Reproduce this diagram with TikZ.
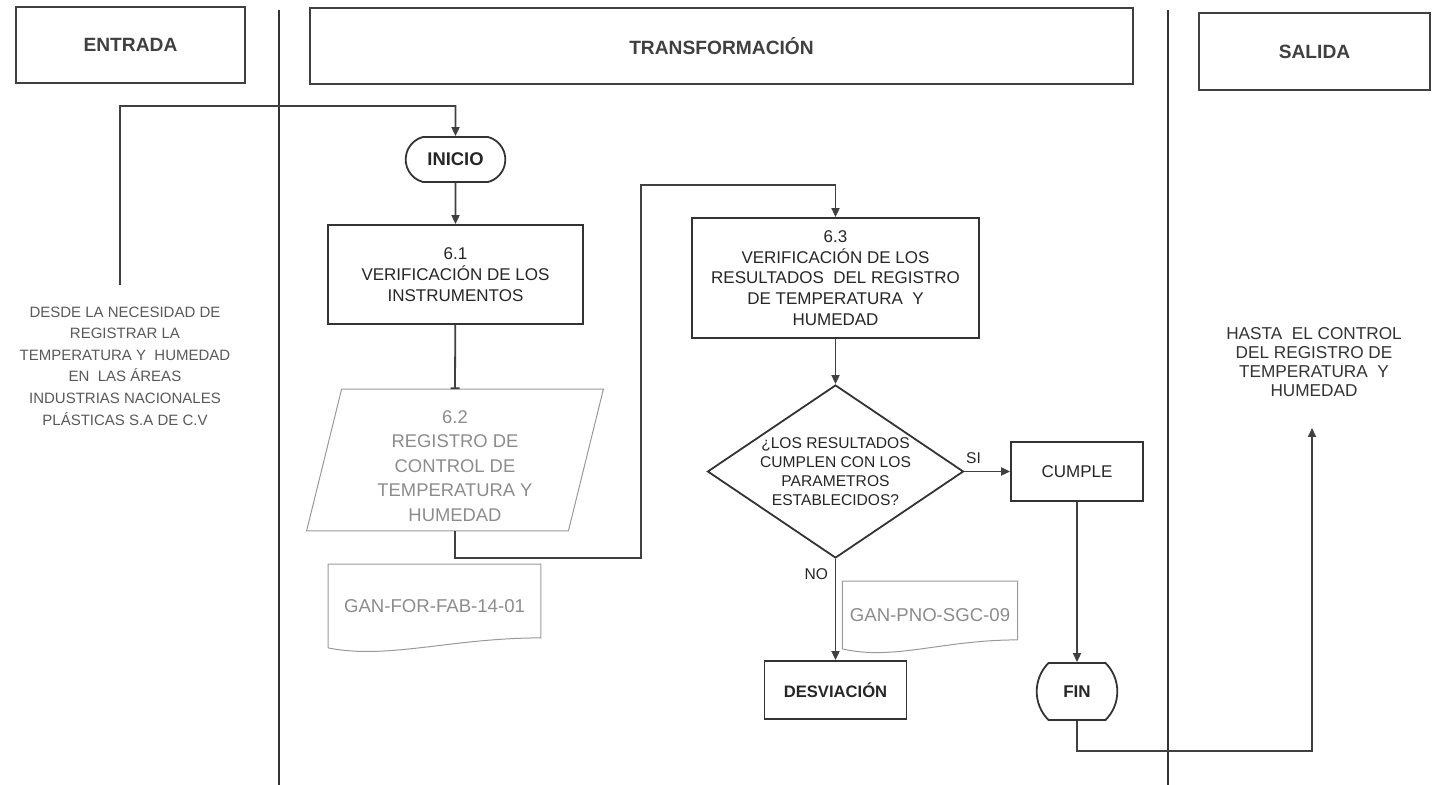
\documentclass[tikz,border=0pt]{standalone}
\usepackage{fontspec}
\setmainfont{Liberation Sans}
\usetikzlibrary{arrows.meta,shapes.geometric,shapes.misc,positioning}

\begin{document}
\begin{tikzpicture}[x=0.5pt,y=-0.5pt,>={Triangle[length=4.5pt,width=4pt]},line width=0.9pt]
  \tikzstyle{header}=[rectangle,draw=black!75,text=black!75,minimum width=114.5pt,
                      minimum height=38pt,font=\fontsize{9.6}{11}\selectfont\bfseries]
  \tikzstyle{process}=[rectangle,draw=black!80,text=black!85,align=center,inner sep=2pt,
                       font=\fontsize{8.5}{10.4}\selectfont]
  \tikzstyle{terminal}=[rounded rectangle,draw=black!80,text=black!85,
                        font=\fontsize{9.2}{11}\selectfont\bfseries]
  \tikzstyle{decision}=[diamond,aspect=1.48,inner sep=0pt,draw=black!80,text=black!85,
                        align=center,font=\fontsize{7.8}{9.5}\selectfont]
  \tikzstyle{faded}=[text=black!45,align=center,font=\fontsize{9.2}{12.25}\selectfont]
  \tikzstyle{doc}=[faded,font=\fontsize{9.3}{11}\selectfont]
  \tikzstyle{note}=[align=center,text=black!65,font=\fontsize{7.5}{10.8}\selectfont]
  \tikzstyle{outline}=[draw=black!40,line width=0.5pt]
  \tikzstyle{lane}=[draw=black!80,line width=1.1pt]
  \tikzstyle{flow}=[draw=black!75,->]
  \useasboundingbox (0,0) rectangle (1438,785);

  \draw[lane] (279,10) -- (279,785);
  \draw[lane] (1168,10) -- (1168,785);

  \node[header] (entrada) at (130.5,45) {ENTRADA};
  \node[header,minimum width=411.5pt] (transf) at (721.5,46) {TRANSFORMACIÓN};
  \node[header,minimum width=115.5pt,minimum height=38.5pt] (salida) at (1314.5,51.5) {SALIDA};

  \node[note] (desde) at (125,366) {DESDE LA NECESIDAD DE\\REGISTRAR LA\\TEMPERATURA Y \ HUMEDAD\\EN \ LAS ÁREAS\\INDUSTRIAS NACIONALES\\PLÁSTICAS S.A DE C.V};
  \node[note,text=black!80,font=\fontsize{8.6}{9.5}\selectfont] (hasta) at (1314,362) {HASTA \ EL CONTROL\\DEL REGISTRO DE\\TEMPERATURA \ Y\\HUMEDAD};

  \node[terminal,rounded rectangle arc length=150,minimum width=56.5pt,minimum height=22.5pt] (inicio) at (455.5,159.5) {INICIO};
  \node[process,minimum width=127.5pt,minimum height=49.5pt] (verif1) at (455.5,274.5) {6.1\\VERIFICACIÓN DE LOS\\INSTRUMENTOS};
  \node[faded,minimum width=130pt,minimum height=70pt] (reg) at (455,466) {6.2\\REGISTRO DE\\CONTROL DE\\TEMPERATURA Y\\HUMEDAD};
  \draw[outline] ([shift={(8.75pt,3pt)}]reg.north west) -- ([shift={(8.75pt,3pt)}]reg.north east)
    -- ([shift={(-8.75pt,3pt)}]reg.south east) -- ([shift={(-8.75pt,3pt)}]reg.south west) -- cycle;
  \node[doc,minimum width=105.5pt,minimum height=41pt] (doc1) at (434.5,606) {GAN-FOR-FAB-14-01};
  \draw[outline] (doc1.south west) -- (doc1.north west) -- (doc1.north east) -- ([yshift=5pt]doc1.south east)
    .. controls ([shift={(-45pt,5pt)}]doc1.south east) and ([shift={(30pt,-6pt)}]doc1.south west) .. (doc1.south west);

  \node[process,minimum width=143.5pt,minimum height=60pt] (verif3) at (835.5,278) {6.3\\VERIFICACIÓN DE LOS\\RESULTADOS \ DEL REGISTRO\\DE TEMPERATURA \ Y\\HUMEDAD};
  \node[decision,minimum width=128pt,minimum height=86.5pt] (dec) at (835.5,471.5) {¿LOS RESULTADOS\\CUMPLEN CON LOS\\PARAMETROS\\ESTABLECIDOS?};
  \node[process,minimum width=66pt,minimum height=29.5pt] (cumple) at (1077,471.5) {CUMPLE};
  \node[process,minimum width=71pt,minimum height=29pt,font=\fontsize{8.3}{10}\selectfont\bfseries] (desv) at (835.5,690) {DESVIACIÓN};
  \node[terminal,rounded rectangle arc length=90,minimum width=45.5pt,minimum height=28.5pt,
        font=\fontsize{8.5}{10}\selectfont\bfseries] (fin) at (1077,691.5) {FIN};
  \node[doc,minimum width=86pt,minimum height=33pt] (doc2) at (930,615) {GAN-PNO-SGC-09};
  \draw[outline] (doc2.south west) -- (doc2.north west) -- (doc2.north east) -- ([yshift=4.5pt]doc2.south east)
    .. controls ([shift={(-38pt,4.5pt)}]doc2.south east) and ([shift={(26pt,-6pt)}]doc2.south west) .. (doc2.south west);

  \coordinate (in1) at (120,285);
  \coordinate (in2) at (455.5,106);
  \coordinate (k1) at (641,558);
  \coordinate (k2) at (641,185);
  \coordinate (o1) at (1312,751);
  \coordinate (o2) at (1312,428);

  \draw[flow] (in1) |- (in2) -- (inicio);
  \draw[flow] (inicio) -- (verif1);
  \draw[draw=black!75,-{Bar[width=4.5pt]}] (verif1) -- ([yshift=3pt]reg.north);
  \draw[flow] ([yshift=3pt]reg.south) |- (k1) -- (k2) -| (verif3);
  \draw[flow] (verif3) -- (dec);
  \draw[flow] (dec) -- node[above,pos=0.2,text=black!85,font=\fontsize{7.8}{9}\selectfont] {SI} (cumple);
  \draw[flow] (dec) -- node[left,pos=0.15,text=black!85,font=\fontsize{7.8}{9}\selectfont] {NO} (desv);
  \draw[flow] (cumple) -- (fin);
  \draw[flow] (fin) |- (o1) -- (o2);
\end{tikzpicture}
\end{document}
